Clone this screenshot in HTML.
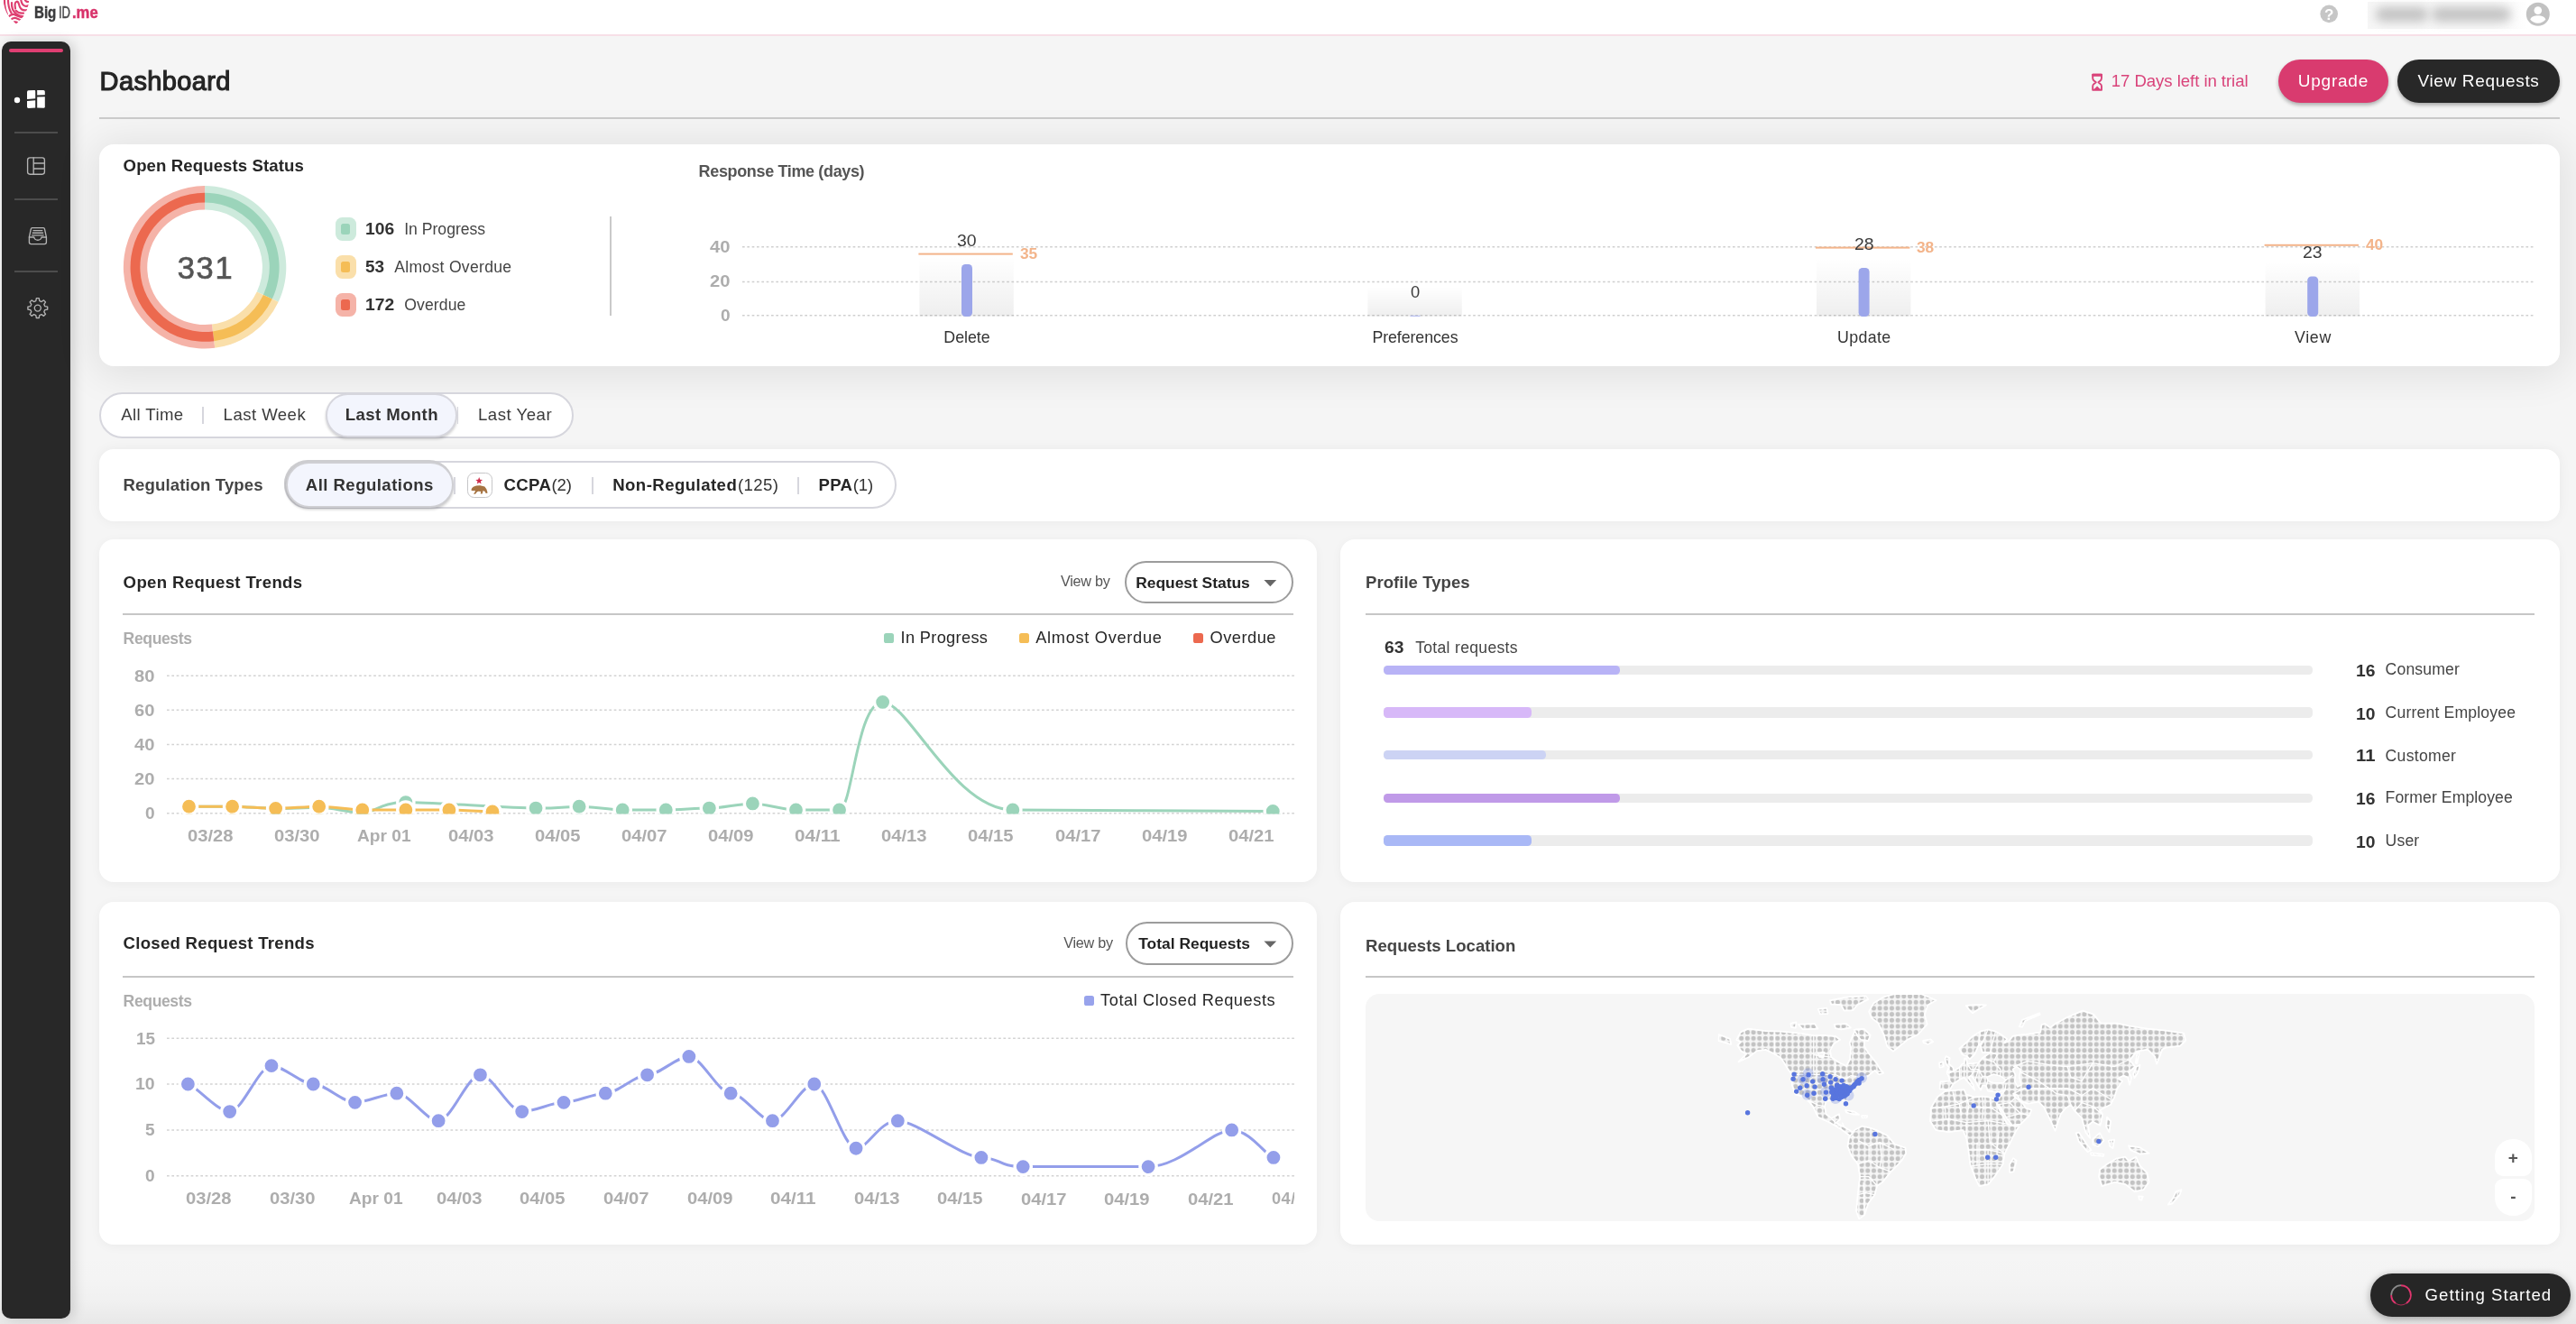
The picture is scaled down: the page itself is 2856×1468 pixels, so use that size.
<!DOCTYPE html>
<html lang="en"><head><meta charset="utf-8"><title>BigID.me - Dashboard</title>
<style>
html,body{margin:0;padding:0;}
body{width:2856px;height:1468px;overflow:hidden;background:#f5f5f5;font-family:"Liberation Sans",sans-serif;}
#root{position:relative;width:2856px;height:1468px;overflow:hidden;background:#f5f5f5;will-change:transform;}
.b{position:absolute;box-sizing:border-box;display:block;}
.t{position:absolute;white-space:nowrap;line-height:1;font-family:"Liberation Sans",sans-serif;}
.card{position:absolute;background:#fff;border-radius:16px;box-sizing:border-box;}
</style></head><body><div id="root">
<div class="b" style="left:0.00px;top:1380.00px;width:2856.00px;height:88.00px;background:linear-gradient(to bottom, rgba(0,0,0,0) 0%, rgba(0,0,0,0.005) 40%, rgba(0,0,0,0.02) 72%, rgba(0,0,0,0.055) 100%);"></div>
<div class="b" style="left:0.00px;top:0.00px;width:2856.00px;height:40.00px;background:#fff;border-bottom:2px solid #f7dfe7;"></div>
<svg class="b" style="left:0.00px;top:0.00px;" width="40.00" height="38.00" viewBox="0.00 0.00 40.00 38.00">
<defs><clipPath id="heart"><path d="M3.6 -3 C3.4 9 8 18.5 17.8 26.4 C27.6 18.5 32.4 9 32.2 -3 Z"/></clipPath></defs>
<g clip-path="url(#heart)" fill="none" stroke="#de3f70" stroke-width="2.15" stroke-linecap="round"><path d="M5 -2 C4.8 6 5.6 11 8 16"/><path d="M9 -2 C8.8 5 9.8 10 12.6 14.4"/><path d="M13 3 C12.6 8.5 14.4 12.5 18 15.4 C21 17.8 24.5 18.6 28 18.2"/><path d="M17 9.4 C16.2 5.4 16.4 2 18.6 1.7 C20.9 1.5 20.8 5 22 7.8 C23.3 10.6 26.2 12 30 11"/><path d="M13.6 -1 C15 -3.4 22 -3.6 23.2 -0.5 C23.6 2.4 24.6 5.2 27 6.4 C28.6 7.2 30.4 7 32 6"/><path d="M27.2 -2 C27.5 0.6 28.8 2.3 32 2"/><path d="M26 14.6 C22.4 15 19.6 14 17.6 11.6"/><path d="M8.6 19.4 C11.4 16.4 13.6 15.6 15.6 16 C19 17.6 22.4 19.2 25.8 19.4"/><path d="M11.6 22.4 C13.6 20.2 15.4 19.6 17.2 20 C19.4 20.8 21.4 21.8 23.4 22.2"/></g>
<path d="M14.8 23.6 C16.4 23 18.6 23.2 20.2 24.2 C19.6 25.2 18.8 25.8 17.8 26.2 C16.6 25.6 15.6 24.8 14.8 23.6 Z" fill="#de3f70"/>
</svg>
<span class="t" style="left:37.55px;top:4px;font-size:19.2px;color:#3c3c3e;font-weight:700;-webkit-text-stroke:0.50px #3c3c3e;transform-origin:0.00px 0;transform:scaleX(0.7861);">Big</span>
<span class="t" style="left:64.88px;top:4px;font-size:19.2px;color:#4b4b4d;-webkit-text-stroke:0.55px #4b4b4d;transform-origin:0.00px 0;transform:scaleX(0.6797);">ID</span>
<span class="t" style="left:79.65px;top:4px;font-size:19.2px;color:#d8336b;font-weight:700;-webkit-text-stroke:0.50px #d8336b;transform-origin:0.00px 0;transform:scaleX(0.8665);">.me</span>
<svg class="b" style="left:2570.00px;top:3.00px;" width="26.00" height="26.00" viewBox="2570.00 3.00 26.00 26.00">
<circle cx="2582.2" cy="15.4" r="9.8" fill="#c6c6c6"/>
</svg>
<span class="t" style="left:2577.01px;top:8px;font-size:17.0px;color:#fff;font-weight:700;">?</span>
<div class="b" style="left:2625.00px;top:2.00px;width:178.00px;height:30.00px;background:linear-gradient(to right,#f6f6f6 0%,#f6f6f6 78%,#fff 100%);"></div>
<div class="b" style="left:2634.00px;top:8.00px;width:58.00px;height:16.00px;background:#a2a2a2;border-radius:8px;filter:blur(5.5px);opacity:.6;"></div>
<div class="b" style="left:2696.00px;top:8.00px;width:88.00px;height:16.00px;background:#a2a2a2;border-radius:8px;filter:blur(5.5px);opacity:.6;"></div>
<svg class="b" style="left:2798.00px;top:0.00px;" width="32.00" height="32.00" viewBox="2798.00 0.00 32.00 32.00">
<circle cx="2813.8" cy="15.8" r="13" fill="#c2c2c2"/><circle cx="2813.8" cy="11.6" r="4.3" fill="#fff"/><path d="M2805.2 21.6 C2806.4 18.2 2810 17.2 2813.8 17.2 C2817.6 17.2 2821.2 18.2 2822.4 21.6 C2820.4 24.2 2817.4 25.8 2813.8 25.8 C2810.2 25.8 2807.2 24.2 2805.2 21.6 Z" fill="#fff"/>
</svg>
<div class="b" style="left:2.00px;top:46.00px;width:76.00px;height:1416.00px;background:#282828;border-radius:10px;box-shadow:4px 0 14px rgba(0,0,0,0.16);"></div>
<div class="b" style="left:10.00px;top:54.00px;width:60.00px;height:4.20px;background:#df3f72;border-radius:2.1px;"></div>
<svg class="b" style="left:10.00px;top:95.00px;" width="60.00" height="30.00" viewBox="10.00 95.00 60.00 30.00">
<circle cx="19" cy="111" r="3.2" fill="#fff"/>
<g fill="#fff"><path d="M31.5 100.2 L38.2 99.9 Q39.2 99.9 39.2 100.9 L39.2 109.3 L30 109.9 L30 101.7 Q30 100.3 31.5 100.2 Z"/><path d="M41.2 99.9 L48.2 100.1 Q49.8 100.2 49.8 101.8 L49.8 105.2 L41.2 105.6 Z"/><path d="M30 111.9 L39.2 111.3 L39.2 119.6 L31.6 119.9 Q30 119.9 30 118.3 Z"/><path d="M41.2 107.6 L49.8 107.2 L49.8 118.2 Q49.8 119.8 48.2 119.8 L41.2 119.6 Z"/></g>
</svg>
<div class="b" style="left:16.00px;top:146.00px;width:48.00px;height:2.00px;background:#4c4c4c;"></div>
<div class="b" style="left:16.00px;top:220.00px;width:48.00px;height:2.00px;background:#4c4c4c;"></div>
<div class="b" style="left:16.00px;top:300.00px;width:48.00px;height:2.00px;background:#4c4c4c;"></div>
<svg class="b" style="left:20.00px;top:165.00px;" width="44.00" height="190.00" viewBox="20.00 165.00 44.00 190.00">
<g fill="none" stroke="#b4b4b4" stroke-width="1.35" stroke-linejoin="round" stroke-linecap="round">
<rect x="30.6" y="174.8" width="18.8" height="18.4" rx="2.6"/><path d="M37.2 174.8 V193.2 M37.2 181 H49.4 M37.2 187 H49.4"/>
<path d="M35.6 252.6 H48.2 Q49.2 252.6 49.4 253.6 L51.4 262.8 V268.6 Q51.4 270.6 49.4 270.6 H34.4 Q32.4 270.6 32.4 268.6 V262.8 L34.4 253.6 Q34.6 252.6 35.6 252.6 Z"/><path d="M32.4 263 H37.8 Q38.4 266.2 41.9 266.2 Q45.4 266.2 46 263 H51.4"/><path d="M37 255.6 H46.8 M36.2 258.2 H47.6 M35.6 260.8 H48.2"/>
<path d="M40.37 330.69 L43.23 330.69 L43.83 333.65 L45.98 334.55 L48.50 332.88 L50.52 334.90 L48.85 337.42 L49.75 339.57 L52.71 340.17 L52.71 343.03 L49.75 343.63 L48.85 345.78 L50.52 348.30 L48.50 350.32 L45.98 348.65 L43.83 349.55 L43.23 352.51 L40.37 352.51 L39.77 349.55 L37.62 348.65 L35.10 350.32 L33.08 348.30 L34.75 345.78 L33.85 343.63 L30.89 343.03 L30.89 340.17 L33.85 339.57 L34.75 337.42 L33.08 334.90 L35.10 332.88 L37.62 334.55 L39.77 333.65 Z"/>
<circle cx="41.8" cy="341.6" r="3.5"/>
</g>
</svg>
<span class="t" style="left:110.58px;top:76px;font-size:29.0px;color:#252525;letter-spacing:0.380px;-webkit-text-stroke:1.15px #252525;">Dashboard</span>
<div class="b" style="left:110.00px;top:130.00px;width:2728.00px;height:2.00px;background:#cbcbcb;"></div>
<svg class="b" style="left:2316.00px;top:80.00px;" width="18.00" height="24.00" viewBox="2316.00 80.00 18.00 24.00">
<g fill="none" stroke="#d9437a" stroke-width="1.9" stroke-linejoin="round"><path d="M2320.2 82.6 H2330 V86.6 Q2330 88.4 2328.6 89.4 L2326.4 91.2 L2328.6 93 Q2330 94 2330 95.8 V99.8 H2320.2 V95.8 Q2320.2 94 2321.6 93 L2323.8 91.2 L2321.6 89.4 Q2320.2 88.4 2320.2 86.6 Z"/></g><path d="M2321.6 99 L2325.1 95.6 L2328.6 99 Z" fill="#d9437a"/><rect x="2319.4" y="81.8" width="11.4" height="3" rx="1" fill="#d9437a"/>
</svg>
<span class="t" style="left:2340.80px;top:81px;font-size:18.6px;color:#d9437a;letter-spacing:-0.059px;">17 Days left in trial</span>
<div class="b" style="left:2526.00px;top:66.00px;width:122.00px;height:47.60px;background:#d93b6f;border-radius:24px;box-shadow:0 2.5px 4.5px rgba(0,0,0,0.3);"></div>
<span class="t" style="left:2547.80px;top:80px;font-size:19.0px;color:#fff;letter-spacing:0.756px;">Upgrade</span>
<div class="b" style="left:2658.00px;top:66.00px;width:180.00px;height:47.60px;background:#282828;border-radius:24px;box-shadow:0 2.5px 4.5px rgba(0,0,0,0.32);"></div>
<span class="t" style="left:2680.40px;top:80px;font-size:19.0px;color:#fff;letter-spacing:0.671px;">View Requests</span>
<div class="b" style="left:2628.00px;top:1412.00px;width:222.00px;height:48.00px;background:#262626;border-radius:24px;box-shadow:0 2px 8px rgba(0,0,0,0.35);"></div>
<svg class="b" style="left:2645.00px;top:1420.00px;" width="34.00" height="32.00" viewBox="2645.00 1420.00 34.00 32.00">
<path d="M2651.2 1436 A10.8 10.8 0 0 1 2662 1425.2" fill="none" stroke="#8a8a8a" stroke-width="1.7"/><path d="M2662 1425.2 A10.8 10.8 0 0 1 2668 1445" fill="none" stroke="#e0356e" stroke-width="2"/><path d="M2668 1445 A10.8 10.8 0 0 1 2656 1445" fill="none" stroke="#b02c58" stroke-width="1"/><path d="M2656 1445 A10.8 10.8 0 0 1 2651.2 1436" fill="none" stroke="#e0356e" stroke-width="1.9"/>
</svg>
<span class="t" style="left:2688.60px;top:1427px;font-size:18.6px;color:#fff;letter-spacing:1.037px;">Getting Started</span>
<div class="card" style="left:110px;top:160px;width:2728px;height:245.6px;box-shadow:0 4px 44px 6px rgba(0,0,0,0.085);"></div>
<span class="t" style="left:136.60px;top:175px;font-size:18.6px;color:#262626;font-weight:700;letter-spacing:0.102px;">Open Requests Status</span>
<svg class="b" style="left:130.00px;top:200.00px;" width="196.00" height="194.00" viewBox="130.00 200.00 196.00 194.00">
<path d="M227.10 206.10 A90.20 90.20 0 0 1 308.66 334.83 L284.79 323.55 A63.80 63.80 0 0 0 227.10 232.50 Z" fill="#cdeadc"/>
<path d="M227.10 213.80 A82.50 82.50 0 0 1 301.69 331.54 L291.93 326.93 A71.70 71.70 0 0 0 227.10 224.60 Z" fill="#9bd4ba"/>
<path d="M308.66 334.83 A90.20 90.20 0 0 1 238.20 385.81 L234.95 359.61 A63.80 63.80 0 0 0 284.79 323.55 Z" fill="#fadfaa"/>
<path d="M301.69 331.54 A82.50 82.50 0 0 1 237.25 378.17 L235.92 367.45 A71.70 71.70 0 0 0 291.93 326.93 Z" fill="#f5bd56"/>
<path d="M238.20 385.81 A90.20 90.20 0 1 1 227.10 206.10 L227.10 232.50 A63.80 63.80 0 1 0 234.95 359.61 Z" fill="#f5b3a8"/>
<path d="M237.25 378.17 A82.50 82.50 0 1 1 227.10 213.80 L227.10 224.60 A71.70 71.70 0 1 0 235.92 367.45 Z" fill="#ec694f"/>
</svg>
<span class="t" style="left:196.80px;top:280px;font-size:34.4px;color:#555;letter-spacing:1.676px;-webkit-text-stroke:0.70px #555;">331</span>
<div class="b" style="left:371.60px;top:241.40px;width:23.00px;height:25.20px;background:#cdeadc;border-radius:7.5px;"></div>
<div class="b" style="left:378.20px;top:248.00px;width:9.80px;height:12.00px;background:#9bd4ba;border-radius:2.5px;"></div>
<span class="t" style="left:405.20px;top:246px;font-size:17.6px;color:#333;font-weight:700;transform-origin:0.00px 0;transform:scaleX(1.0955);">106</span>
<span class="t" style="left:448.20px;top:246px;font-size:17.6px;color:#444;">In Progress</span>
<div class="b" style="left:371.60px;top:283.40px;width:23.00px;height:25.20px;background:#fadfaa;border-radius:7.5px;"></div>
<div class="b" style="left:378.20px;top:290.00px;width:9.80px;height:12.00px;background:#f5bd56;border-radius:2.5px;"></div>
<span class="t" style="left:405.20px;top:288px;font-size:17.6px;color:#333;font-weight:700;transform-origin:0.00px 0;transform:scaleX(1.0749);">53</span>
<span class="t" style="left:437.20px;top:288px;font-size:17.6px;color:#444;letter-spacing:0.293px;">Almost Overdue</span>
<div class="b" style="left:371.60px;top:325.40px;width:23.00px;height:25.20px;background:#f5b3a8;border-radius:7.5px;"></div>
<div class="b" style="left:378.20px;top:332.00px;width:9.80px;height:12.00px;background:#ec694f;border-radius:2.5px;"></div>
<span class="t" style="left:405.20px;top:330px;font-size:17.6px;color:#333;font-weight:700;transform-origin:0.00px 0;transform:scaleX(1.0955);">172</span>
<span class="t" style="left:448.20px;top:330px;font-size:17.6px;color:#444;letter-spacing:0.117px;">Overdue</span>
<div class="b" style="left:676.00px;top:240.00px;width:2.00px;height:110.00px;background:#c9c9c9;"></div>
<span class="t" style="left:774.60px;top:181px;font-size:18.0px;color:#555;font-weight:700;letter-spacing:-0.353px;">Response Time (days)</span>
<svg class="b" style="left:760.00px;top:230.00px;" width="2070.00" height="140.00" viewBox="760.00 230.00 2070.00 140.00">
<line x1="823" y1="273.80" x2="2810.6" y2="273.80" stroke="#d0d0d0" stroke-width="1.5" stroke-dasharray="2.7 2.63"/>
<line x1="823" y1="312.40" x2="2810.6" y2="312.40" stroke="#d0d0d0" stroke-width="1.5" stroke-dasharray="2.7 2.63"/>
<line x1="823" y1="349.80" x2="2810.6" y2="349.80" stroke="#d0d0d0" stroke-width="1.5" stroke-dasharray="2.7 2.63"/>
<defs><linearGradient id="colbg" x1="0" y1="0" x2="0" y2="1"><stop offset="0" stop-color="#000" stop-opacity="0"/><stop offset="1" stop-color="#000" stop-opacity="0.065"/></linearGradient></defs>
<rect x="1019.40" y="284.00" width="104.4" height="66.60" fill="url(#colbg)"/>
<rect x="1066.00" y="293.00" width="12" height="58.00" rx="4.4" fill="#9ca6ea"/>
<rect x="1018.40" y="280.60" width="104.4" height="2" fill="#f3b48a"/>
<rect x="1516.40" y="318.00" width="104.4" height="32.60" fill="url(#colbg)"/>
<rect x="1563.50" y="349.8" width="11" height="1.2" fill="#b9c0f2"/>
<rect x="2014.00" y="286.00" width="104.4" height="64.60" fill="url(#colbg)"/>
<rect x="2060.60" y="297.00" width="12" height="54.00" rx="4.4" fill="#9ca6ea"/>
<rect x="2013.00" y="273.60" width="104.4" height="2" fill="#f3b48a"/>
<rect x="2511.60" y="290.00" width="104.4" height="60.60" fill="url(#colbg)"/>
<rect x="2558.20" y="306.40" width="12" height="44.60" rx="4.4" fill="#9ca6ea"/>
<rect x="2510.60" y="270.80" width="104.4" height="2" fill="#f3b48a"/>
</svg>
<span class="t" style="left:787.00px;top:265px;font-size:18.0px;color:#adadad;font-weight:700;transform-origin:0.00px 0;transform:scaleX(1.1211);">40</span>
<span class="t" style="left:787.00px;top:303px;font-size:18.0px;color:#adadad;font-weight:700;transform-origin:0.00px 0;transform:scaleX(1.1211);">20</span>
<span class="t" style="left:798.80px;top:341px;font-size:18.0px;color:#adadad;font-weight:700;transform-origin:0.00px 0;transform:scaleX(1.0611);">0</span>
<span class="t" style="left:1061.20px;top:259px;font-size:17.8px;color:#3c3c3c;transform-origin:0.00px 0;transform:scaleX(1.0932);">30</span>
<span class="t" style="left:1130.60px;top:274px;font-size:15.8px;color:#f3b48a;font-weight:700;transform-origin:0.00px 0;transform:scaleX(1.0948);">35</span>
<span class="t" style="left:1046.30px;top:366px;font-size:17.8px;color:#333;letter-spacing:-0.008px;">Delete</span>
<span class="t" style="left:1563.90px;top:316px;font-size:17.8px;color:#3c3c3c;transform-origin:0.00px 0;transform:scaleX(1.0325);">0</span>
<span class="t" style="left:1521.40px;top:366px;font-size:17.8px;color:#333;letter-spacing:-0.074px;">Preferences</span>
<span class="t" style="left:2055.80px;top:263px;font-size:17.8px;color:#3c3c3c;transform-origin:0.00px 0;transform:scaleX(1.0932);">28</span>
<span class="t" style="left:2125.20px;top:267px;font-size:15.8px;color:#f3b48a;font-weight:700;transform-origin:0.00px 0;transform:scaleX(1.0948);">38</span>
<span class="t" style="left:2036.90px;top:366px;font-size:17.8px;color:#333;letter-spacing:0.399px;">Update</span>
<span class="t" style="left:2553.40px;top:272px;font-size:17.8px;color:#3c3c3c;transform-origin:0.00px 0;transform:scaleX(1.0932);">23</span>
<span class="t" style="left:2622.80px;top:264px;font-size:15.8px;color:#f3b48a;font-weight:700;transform-origin:0.00px 0;transform:scaleX(1.0948);">40</span>
<span class="t" style="left:2544.10px;top:366px;font-size:17.8px;color:#333;letter-spacing:0.643px;">View</span>
<div class="b" style="left:110.00px;top:434.50px;width:525.60px;height:51.00px;background:#fff;border:2px solid #d6d6dd;border-radius:26px;"></div>
<span class="t" style="left:134.20px;top:451px;font-size:18.6px;color:#3a3a3a;letter-spacing:0.411px;">All Time</span>
<div class="b" style="left:224.00px;top:450.50px;width:2.00px;height:19.00px;background:#d6d6dd;"></div>
<span class="t" style="left:247.60px;top:451px;font-size:18.6px;color:#3a3a3a;letter-spacing:0.449px;">Last Week</span>
<div class="b" style="left:360.50px;top:435.50px;width:146.00px;height:49.00px;background:#f3f5fd;border:2px solid #d6d6dd;border-radius:25px;box-shadow:0 2px 3px rgba(0,0,0,0.18);"></div>
<span class="t" style="left:382.80px;top:451px;font-size:18.6px;color:#333;font-weight:700;letter-spacing:0.397px;">Last Month</span>
<div class="b" style="left:506.60px;top:450.50px;width:1.60px;height:19.00px;background:#d6d6dd;"></div>
<span class="t" style="left:530.00px;top:451px;font-size:18.6px;color:#3a3a3a;letter-spacing:0.505px;">Last Year</span>
<div class="card" style="left:110px;top:498px;width:2728px;height:80px;box-shadow:0 0 14px rgba(0,0,0,0.05);"></div>
<span class="t" style="left:136.60px;top:529px;font-size:18.6px;color:#444;font-weight:700;letter-spacing:0.091px;">Regulation Types</span>
<div class="b" style="left:314.50px;top:510.50px;width:679.50px;height:53.00px;background:#fff;border:2px solid #d6d6dd;border-radius:27px;"></div>
<div class="b" style="left:316.60px;top:512.40px;width:186.40px;height:50.40px;background:#f3f5fd;border:2px solid #cfcfd3;border-radius:26px;box-shadow:0 2px 3px rgba(0,0,0,0.2), -1.5px -1.5px 0 0.5px #cdcdd0;"></div>
<span class="t" style="left:338.80px;top:529px;font-size:18.6px;color:#333;font-weight:700;letter-spacing:0.442px;">All Regulations</span>
<div class="b" style="left:503.40px;top:528.50px;width:1.60px;height:19.00px;background:#d6d6dd;"></div>
<div class="b" style="left:518.00px;top:524.00px;width:27.80px;height:27.80px;background:#fff;border:1.8px solid #c6c6c8;border-radius:7.5px;"></div>
<svg class="b" style="left:518.00px;top:524.00px;" width="28.00" height="28.00" viewBox="518.00 524.00 28.00 28.00">
<polygon points="531.19,529.12 532.23,531.77 535.07,531.94 532.87,533.74 533.59,536.50 531.19,534.97 528.79,536.50 529.51,533.74 527.31,531.94 530.15,531.77" fill="#cf2e4c"/>
<polygon points="522.35,543.57 523.20,541.19 524.73,539.76 528.13,538.54 532.21,538.13 537.31,539.49 539.35,542.21 540.37,545.61 540.44,546.70 538.67,546.97 537.65,544.93 535.61,543.98 534.93,546.63 534.25,547.72 532.72,547.31 533.23,544.93 530.17,544.66 528.81,545.61 527.11,547.72 525.00,547.86 526.09,546.29 527.11,544.32 525.41,543.98 524.05,544.32" fill="#a67443"/>
</svg>
<span class="t" style="left:558.40px;top:529px;font-size:18.6px;color:#262626;font-weight:700;letter-spacing:0.421px;">CCPA</span>
<span class="t" style="left:611.60px;top:529px;font-size:18.6px;color:#333;letter-spacing:-0.246px;">(2)</span>
<div class="b" style="left:656.00px;top:528.50px;width:2.00px;height:19.00px;background:#d6d6dd;"></div>
<span class="t" style="left:679.20px;top:529px;font-size:18.6px;color:#262626;font-weight:700;letter-spacing:0.446px;">Non-Regulated</span>
<span class="t" style="left:818.00px;top:529px;font-size:18.6px;color:#333;letter-spacing:0.392px;">(125)</span>
<div class="b" style="left:884.00px;top:528.50px;width:2.00px;height:19.00px;background:#d6d6dd;"></div>
<span class="t" style="left:907.60px;top:529px;font-size:18.6px;color:#262626;font-weight:700;letter-spacing:0.286px;">PPA</span>
<span class="t" style="left:945.80px;top:529px;font-size:18.6px;color:#333;letter-spacing:-0.146px;">(1)</span>
<div class="card" style="left:110px;top:598.0px;width:1350px;height:380px;box-shadow:0 2px 12px rgba(0,0,0,0.045);"></div>
<span class="t" style="left:136.60px;top:637px;font-size:18.6px;color:#262626;font-weight:700;letter-spacing:0.354px;">Open Request Trends</span>
<span class="t" style="left:1176.00px;top:636px;font-size:16.2px;color:#555;letter-spacing:-0.243px;">View by</span>
<div class="b" style="left:1246.60px;top:622.00px;width:187.00px;height:47.40px;background:#fff;border:2px solid #9c9c9c;border-radius:24px;"></div>
<span class="t" style="left:1259.20px;top:638px;font-size:17.4px;color:#222;font-weight:700;letter-spacing:-0.006px;">Request Status</span>
<svg class="b" style="left:1398.00px;top:636.00px;" width="22.00" height="20.00" viewBox="1398.00 636.00 22.00 20.00">
<path d="M1401.4 643.0 H1415.2 L1408.3 650.2 Z" fill="#666"/>
</svg>
<div class="b" style="left:136.00px;top:680.20px;width:1298.00px;height:2.00px;background:#c6c6c6;"></div>
<span class="t" style="left:136.60px;top:700px;font-size:17.6px;color:#adadad;font-weight:700;letter-spacing:-0.400px;">Requests</span>
<div class="b" style="left:980.00px;top:702.00px;width:10.60px;height:10.60px;background:#9bd4ba;border-radius:2.6px;"></div>
<span class="t" style="left:998.60px;top:698px;font-size:18.2px;color:#262626;letter-spacing:0.331px;">In Progress</span>
<div class="b" style="left:1130.00px;top:702.00px;width:10.60px;height:10.60px;background:#f5bd56;border-radius:2.6px;"></div>
<span class="t" style="left:1148.20px;top:698px;font-size:18.2px;color:#262626;letter-spacing:0.716px;">Almost Overdue</span>
<div class="b" style="left:1323.20px;top:702.00px;width:10.60px;height:10.60px;background:#ec694f;border-radius:2.6px;"></div>
<span class="t" style="left:1341.60px;top:698px;font-size:18.2px;color:#262626;letter-spacing:0.501px;">Overdue</span>
<span class="t" style="left:149.20px;top:741px;font-size:18.2px;color:#adadad;font-weight:700;transform-origin:0.00px 0;transform:scaleX(1.1088);">80</span>
<span class="t" style="left:149.20px;top:779px;font-size:18.2px;color:#adadad;font-weight:700;transform-origin:0.00px 0;transform:scaleX(1.1088);">60</span>
<span class="t" style="left:149.20px;top:817px;font-size:18.2px;color:#adadad;font-weight:700;transform-origin:0.00px 0;transform:scaleX(1.1088);">40</span>
<span class="t" style="left:149.20px;top:855px;font-size:18.2px;color:#adadad;font-weight:700;transform-origin:0.00px 0;transform:scaleX(1.1088);">20</span>
<span class="t" style="left:161.00px;top:893px;font-size:18.2px;color:#adadad;font-weight:700;transform-origin:0.00px 0;transform:scaleX(1.0494);">0</span>
<span class="t" style="left:208.10px;top:918px;font-size:18.2px;color:#adadad;font-weight:700;transform-origin:0.00px 0;transform:scaleX(1.1099);">03/28</span>
<span class="t" style="left:304.24px;top:918px;font-size:18.2px;color:#adadad;font-weight:700;transform-origin:0.00px 0;transform:scaleX(1.1099);">03/30</span>
<span class="t" style="left:395.88px;top:918px;font-size:18.2px;color:#adadad;font-weight:700;transform-origin:0.00px 0;transform:scaleX(1.0530);">Apr 01</span>
<span class="t" style="left:496.52px;top:918px;font-size:18.2px;color:#adadad;font-weight:700;transform-origin:0.00px 0;transform:scaleX(1.1099);">04/03</span>
<span class="t" style="left:592.66px;top:918px;font-size:18.2px;color:#adadad;font-weight:700;transform-origin:0.00px 0;transform:scaleX(1.1099);">04/05</span>
<span class="t" style="left:688.80px;top:918px;font-size:18.2px;color:#adadad;font-weight:700;transform-origin:0.00px 0;transform:scaleX(1.1099);">04/07</span>
<span class="t" style="left:784.94px;top:918px;font-size:18.2px;color:#adadad;font-weight:700;transform-origin:0.00px 0;transform:scaleX(1.1099);">04/09</span>
<span class="t" style="left:881.08px;top:918px;font-size:18.2px;color:#adadad;font-weight:700;transform-origin:0.00px 0;transform:scaleX(1.1371);">04/11</span>
<span class="t" style="left:977.22px;top:918px;font-size:18.2px;color:#adadad;font-weight:700;transform-origin:0.00px 0;transform:scaleX(1.1099);">04/13</span>
<span class="t" style="left:1073.36px;top:918px;font-size:18.2px;color:#adadad;font-weight:700;transform-origin:0.00px 0;transform:scaleX(1.1099);">04/15</span>
<span class="t" style="left:1169.50px;top:918px;font-size:18.2px;color:#adadad;font-weight:700;transform-origin:0.00px 0;transform:scaleX(1.1099);">04/17</span>
<span class="t" style="left:1265.64px;top:918px;font-size:18.2px;color:#adadad;font-weight:700;transform-origin:0.00px 0;transform:scaleX(1.1099);">04/19</span>
<span class="t" style="left:1361.78px;top:918px;font-size:18.2px;color:#adadad;font-weight:700;transform-origin:0.00px 0;transform:scaleX(1.1099);">04/21</span>
<svg class="b" style="left:180.00px;top:728.00px;" width="1256.00" height="190.00" viewBox="180.00 728.00 1256.00 190.00">
<line x1="185" y1="749.20" x2="1435" y2="749.20" stroke="#d3d3d3" stroke-width="1.5" stroke-dasharray="2.7 2.63"/>
<line x1="185" y1="787.20" x2="1435" y2="787.20" stroke="#d3d3d3" stroke-width="1.5" stroke-dasharray="2.7 2.63"/>
<line x1="185" y1="825.40" x2="1435" y2="825.40" stroke="#d3d3d3" stroke-width="1.5" stroke-dasharray="2.7 2.63"/>
<line x1="185" y1="863.40" x2="1435" y2="863.40" stroke="#d3d3d3" stroke-width="1.5" stroke-dasharray="2.7 2.63"/>
<line x1="185" y1="901.80" x2="1435" y2="901.80" stroke="#d3d3d3" stroke-width="1.5" stroke-dasharray="2.7 2.63"/>
<clipPath id="clipo"><rect x="180" y="728.0" width="1256" height="174.6"/></clipPath>
<g clip-path="url(#clipo)">
<path d="M209.50 894.17 C216.71 894.17 243.15 894.17 257.57 894.17 C271.99 894.17 291.22 896.46 305.64 896.46 C320.06 896.46 339.29 895.32 353.71 895.32 C368.13 895.32 387.36 901.04 401.78 901.04 C416.20 901.04 421.01 889.60 449.85 889.60 C478.69 889.60 565.22 896.08 594.06 896.08 C622.90 896.08 627.71 894.17 642.13 894.17 C656.55 894.17 675.78 897.99 690.20 897.99 C704.62 897.99 723.85 897.99 738.27 897.99 C752.69 897.99 771.92 896.08 786.34 896.08 C800.76 896.08 819.99 890.93 834.41 890.93 C848.83 890.93 868.06 897.99 882.48 897.99 C896.90 897.99 916.13 897.99 930.55 897.99 C944.97 897.99 949.78 778.46 978.62 778.46 C1007.46 778.46 1057.94 897.99 1122.83 897.99 C1187.72 897.99 1367.99 899.51 1411.25 899.51" fill="none" stroke="#9bd4ba" stroke-width="3" stroke-linecap="round" stroke-linejoin="round"/>
<circle cx="209.50" cy="894.17" r="9.1" fill="#9bd4ba" stroke="#fff" stroke-width="3.4"/>
<circle cx="257.57" cy="894.17" r="9.1" fill="#9bd4ba" stroke="#fff" stroke-width="3.4"/>
<circle cx="305.64" cy="896.46" r="9.1" fill="#9bd4ba" stroke="#fff" stroke-width="3.4"/>
<circle cx="353.71" cy="895.32" r="9.1" fill="#9bd4ba" stroke="#fff" stroke-width="3.4"/>
<circle cx="401.78" cy="901.04" r="9.1" fill="#9bd4ba" stroke="#fff" stroke-width="3.4"/>
<circle cx="449.85" cy="889.60" r="9.1" fill="#9bd4ba" stroke="#fff" stroke-width="3.4"/>
<circle cx="594.06" cy="896.08" r="9.1" fill="#9bd4ba" stroke="#fff" stroke-width="3.4"/>
<circle cx="642.13" cy="894.17" r="9.1" fill="#9bd4ba" stroke="#fff" stroke-width="3.4"/>
<circle cx="690.20" cy="897.99" r="9.1" fill="#9bd4ba" stroke="#fff" stroke-width="3.4"/>
<circle cx="738.27" cy="897.99" r="9.1" fill="#9bd4ba" stroke="#fff" stroke-width="3.4"/>
<circle cx="786.34" cy="896.08" r="9.1" fill="#9bd4ba" stroke="#fff" stroke-width="3.4"/>
<circle cx="834.41" cy="890.93" r="9.1" fill="#9bd4ba" stroke="#fff" stroke-width="3.4"/>
<circle cx="882.48" cy="897.99" r="9.1" fill="#9bd4ba" stroke="#fff" stroke-width="3.4"/>
<circle cx="930.55" cy="897.99" r="9.1" fill="#9bd4ba" stroke="#fff" stroke-width="3.4"/>
<circle cx="978.62" cy="778.46" r="9.1" fill="#9bd4ba" stroke="#fff" stroke-width="3.4"/>
<circle cx="1122.83" cy="897.99" r="9.1" fill="#9bd4ba" stroke="#fff" stroke-width="3.4"/>
<circle cx="1411.25" cy="899.51" r="9.1" fill="#9bd4ba" stroke="#fff" stroke-width="3.4"/>
<path d="M209.50 894.17 C216.71 894.17 243.15 894.17 257.57 894.17 C271.99 894.17 291.22 896.46 305.64 896.46 C320.06 896.46 339.29 894.17 353.71 894.17 C368.13 894.17 387.36 897.99 401.78 897.99 C416.20 897.99 435.43 897.99 449.85 897.99 C464.27 897.99 483.50 897.99 497.92 897.99 C512.34 897.99 538.78 899.89 545.99 899.89" fill="none" stroke="#f5bd56" stroke-width="3" stroke-linecap="round" stroke-linejoin="round"/>
<circle cx="209.50" cy="894.17" r="9.1" fill="#f5bd56" stroke="#fff" stroke-width="3.4"/>
<circle cx="257.57" cy="894.17" r="9.1" fill="#f5bd56" stroke="#fff" stroke-width="3.4"/>
<circle cx="305.64" cy="896.46" r="9.1" fill="#f5bd56" stroke="#fff" stroke-width="3.4"/>
<circle cx="353.71" cy="894.17" r="9.1" fill="#f5bd56" stroke="#fff" stroke-width="3.4"/>
<circle cx="401.78" cy="897.99" r="9.1" fill="#f5bd56" stroke="#fff" stroke-width="3.4"/>
<circle cx="449.85" cy="897.99" r="9.1" fill="#f5bd56" stroke="#fff" stroke-width="3.4"/>
<circle cx="497.92" cy="897.99" r="9.1" fill="#f5bd56" stroke="#fff" stroke-width="3.4"/>
<circle cx="545.99" cy="899.89" r="9.1" fill="#f5bd56" stroke="#fff" stroke-width="3.4"/>
</g>
</svg>
<div class="card" style="left:110px;top:1000.0px;width:1350px;height:380px;box-shadow:0 2px 12px rgba(0,0,0,0.045);"></div>
<span class="t" style="left:136.60px;top:1037px;font-size:18.6px;color:#262626;font-weight:700;letter-spacing:0.263px;">Closed Request Trends</span>
<span class="t" style="left:1179.20px;top:1037px;font-size:16.2px;color:#555;letter-spacing:-0.243px;">View by</span>
<div class="b" style="left:1248.40px;top:1022.40px;width:185.20px;height:47.40px;background:#fff;border:2px solid #9c9c9c;border-radius:24px;"></div>
<span class="t" style="left:1262.20px;top:1038px;font-size:17.4px;color:#222;font-weight:700;letter-spacing:0.027px;">Total Requests</span>
<svg class="b" style="left:1398.00px;top:1038.00px;" width="22.00" height="20.00" viewBox="1398.00 1038.00 22.00 20.00">
<path d="M1401.4 1043.4 H1415.2 L1408.3 1050.6 Z" fill="#666"/>
</svg>
<div class="b" style="left:136.00px;top:1082.20px;width:1298.00px;height:2.00px;background:#c6c6c6;"></div>
<span class="t" style="left:136.60px;top:1102px;font-size:17.6px;color:#adadad;font-weight:700;letter-spacing:-0.400px;">Requests</span>
<div class="b" style="left:1202.00px;top:1104.00px;width:10.60px;height:10.60px;background:#98a3ec;border-radius:2.6px;"></div>
<span class="t" style="left:1220.00px;top:1100px;font-size:18.2px;color:#262626;letter-spacing:0.585px;">Total Closed Requests</span>
<span class="t" style="left:150.60px;top:1143px;font-size:18.2px;color:#adadad;font-weight:700;transform-origin:0.00px 0;transform:scaleX(1.0395);">15</span>
<span class="t" style="left:150.00px;top:1193px;font-size:18.2px;color:#adadad;font-weight:700;transform-origin:0.00px 0;transform:scaleX(1.0692);">10</span>
<span class="t" style="left:161.00px;top:1244px;font-size:18.2px;color:#adadad;font-weight:700;transform-origin:0.00px 0;transform:scaleX(1.0494);">5</span>
<span class="t" style="left:161.00px;top:1295px;font-size:18.2px;color:#adadad;font-weight:700;transform-origin:0.00px 0;transform:scaleX(1.0494);">0</span>
<span class="t" style="left:206.10px;top:1320px;font-size:18.2px;color:#adadad;font-weight:700;transform-origin:0.00px 0;transform:scaleX(1.1099);">03/28</span>
<span class="t" style="left:298.68px;top:1320px;font-size:18.2px;color:#adadad;font-weight:700;transform-origin:0.00px 0;transform:scaleX(1.1099);">03/30</span>
<span class="t" style="left:386.76px;top:1320px;font-size:18.2px;color:#adadad;font-weight:700;transform-origin:0.00px 0;transform:scaleX(1.0530);">Apr 01</span>
<span class="t" style="left:483.84px;top:1320px;font-size:18.2px;color:#adadad;font-weight:700;transform-origin:0.00px 0;transform:scaleX(1.1099);">04/03</span>
<span class="t" style="left:576.42px;top:1320px;font-size:18.2px;color:#adadad;font-weight:700;transform-origin:0.00px 0;transform:scaleX(1.1099);">04/05</span>
<span class="t" style="left:669.00px;top:1320px;font-size:18.2px;color:#adadad;font-weight:700;transform-origin:0.00px 0;transform:scaleX(1.1099);">04/07</span>
<span class="t" style="left:761.58px;top:1320px;font-size:18.2px;color:#adadad;font-weight:700;transform-origin:0.00px 0;transform:scaleX(1.1099);">04/09</span>
<span class="t" style="left:854.16px;top:1320px;font-size:18.2px;color:#adadad;font-weight:700;transform-origin:0.00px 0;transform:scaleX(1.1371);">04/11</span>
<span class="t" style="left:946.74px;top:1320px;font-size:18.2px;color:#adadad;font-weight:700;transform-origin:0.00px 0;transform:scaleX(1.1099);">04/13</span>
<span class="t" style="left:1039.32px;top:1320px;font-size:18.2px;color:#adadad;font-weight:700;transform-origin:0.00px 0;transform:scaleX(1.1099);">04/15</span>
<span class="t" style="left:1131.90px;top:1321px;font-size:18.2px;color:#adadad;font-weight:700;transform-origin:0.00px 0;transform:scaleX(1.1099);">04/17</span>
<span class="t" style="left:1224.48px;top:1321px;font-size:18.2px;color:#adadad;font-weight:700;transform-origin:0.00px 0;transform:scaleX(1.1099);">04/19</span>
<span class="t" style="left:1317.06px;top:1321px;font-size:18.2px;color:#adadad;font-weight:700;transform-origin:0.00px 0;transform:scaleX(1.1099);">04/21</span>
<svg class="b" style="left:180.00px;top:1130.00px;" width="1256.00" height="190.00" viewBox="180.00 1130.00 1256.00 190.00">
<line x1="185" y1="1151.20" x2="1435" y2="1151.20" stroke="#d3d3d3" stroke-width="1.5" stroke-dasharray="2.7 2.63"/>
<line x1="185" y1="1202.00" x2="1435" y2="1202.00" stroke="#d3d3d3" stroke-width="1.5" stroke-dasharray="2.7 2.63"/>
<line x1="185" y1="1252.90" x2="1435" y2="1252.90" stroke="#d3d3d3" stroke-width="1.5" stroke-dasharray="2.7 2.63"/>
<line x1="185" y1="1303.80" x2="1435" y2="1303.80" stroke="#d3d3d3" stroke-width="1.5" stroke-dasharray="2.7 2.63"/>
<clipPath id="clipc"><rect x="180" y="1130.0" width="1256" height="190.0"/></clipPath>
<g clip-path="url(#clipc)">
<path d="M208.40 1202.00 C215.34 1202.00 240.80 1232.54 254.69 1232.54 C268.58 1232.54 287.09 1181.64 300.98 1181.64 C314.87 1181.64 333.38 1202.00 347.27 1202.00 C361.16 1202.00 379.67 1222.36 393.56 1222.36 C407.45 1222.36 425.96 1212.18 439.85 1212.18 C453.74 1212.18 472.25 1242.72 486.14 1242.72 C500.03 1242.72 518.54 1191.82 532.43 1191.82 C546.32 1191.82 564.83 1232.54 578.72 1232.54 C592.61 1232.54 611.12 1222.36 625.01 1222.36 C638.90 1222.36 657.41 1212.18 671.30 1212.18 C685.19 1212.18 703.70 1191.82 717.59 1191.82 C731.48 1191.82 749.99 1171.46 763.88 1171.46 C777.77 1171.46 796.28 1212.18 810.17 1212.18 C824.06 1212.18 842.57 1242.72 856.46 1242.72 C870.35 1242.72 888.86 1202.00 902.75 1202.00 C916.64 1202.00 935.15 1273.26 949.04 1273.26 C962.93 1273.26 974.50 1242.72 995.33 1242.72 C1016.16 1242.72 1067.08 1283.44 1087.91 1283.44 C1108.74 1283.44 1106.43 1293.62 1134.20 1293.62 C1161.97 1293.62 1238.35 1293.62 1273.07 1293.62 C1307.79 1293.62 1344.82 1252.90 1365.65 1252.90 C1386.48 1252.90 1405.00 1283.44 1411.94 1283.44" fill="none" stroke="#939eea" stroke-width="3" stroke-linecap="round" stroke-linejoin="round"/>
<circle cx="208.40" cy="1202.00" r="9.1" fill="#939eea" stroke="#fff" stroke-width="3.4"/>
<circle cx="254.69" cy="1232.54" r="9.1" fill="#939eea" stroke="#fff" stroke-width="3.4"/>
<circle cx="300.98" cy="1181.64" r="9.1" fill="#939eea" stroke="#fff" stroke-width="3.4"/>
<circle cx="347.27" cy="1202.00" r="9.1" fill="#939eea" stroke="#fff" stroke-width="3.4"/>
<circle cx="393.56" cy="1222.36" r="9.1" fill="#939eea" stroke="#fff" stroke-width="3.4"/>
<circle cx="439.85" cy="1212.18" r="9.1" fill="#939eea" stroke="#fff" stroke-width="3.4"/>
<circle cx="486.14" cy="1242.72" r="9.1" fill="#939eea" stroke="#fff" stroke-width="3.4"/>
<circle cx="532.43" cy="1191.82" r="9.1" fill="#939eea" stroke="#fff" stroke-width="3.4"/>
<circle cx="578.72" cy="1232.54" r="9.1" fill="#939eea" stroke="#fff" stroke-width="3.4"/>
<circle cx="625.01" cy="1222.36" r="9.1" fill="#939eea" stroke="#fff" stroke-width="3.4"/>
<circle cx="671.30" cy="1212.18" r="9.1" fill="#939eea" stroke="#fff" stroke-width="3.4"/>
<circle cx="717.59" cy="1191.82" r="9.1" fill="#939eea" stroke="#fff" stroke-width="3.4"/>
<circle cx="763.88" cy="1171.46" r="9.1" fill="#939eea" stroke="#fff" stroke-width="3.4"/>
<circle cx="810.17" cy="1212.18" r="9.1" fill="#939eea" stroke="#fff" stroke-width="3.4"/>
<circle cx="856.46" cy="1242.72" r="9.1" fill="#939eea" stroke="#fff" stroke-width="3.4"/>
<circle cx="902.75" cy="1202.00" r="9.1" fill="#939eea" stroke="#fff" stroke-width="3.4"/>
<circle cx="949.04" cy="1273.26" r="9.1" fill="#939eea" stroke="#fff" stroke-width="3.4"/>
<circle cx="995.33" cy="1242.72" r="9.1" fill="#939eea" stroke="#fff" stroke-width="3.4"/>
<circle cx="1087.91" cy="1283.44" r="9.1" fill="#939eea" stroke="#fff" stroke-width="3.4"/>
<circle cx="1134.20" cy="1293.62" r="9.1" fill="#939eea" stroke="#fff" stroke-width="3.4"/>
<circle cx="1273.07" cy="1293.62" r="9.1" fill="#939eea" stroke="#fff" stroke-width="3.4"/>
<circle cx="1365.65" cy="1252.90" r="9.1" fill="#939eea" stroke="#fff" stroke-width="3.4"/>
<circle cx="1411.94" cy="1283.44" r="9.1" fill="#939eea" stroke="#fff" stroke-width="3.4"/>
</g>
</svg>
<div class="b" style="left:1400px;top:1310px;width:34.6px;height:36px;overflow:hidden;">
<span class="t" style="left:10.00px;top:10.39px;font-size:18.2px;color:#adadad;font-weight:700;letter-spacing:.5px;">04/23</span>
</div>
<div class="card" style="left:1486px;top:598px;width:1352px;height:380px;box-shadow:0 2px 12px rgba(0,0,0,0.045);"></div>
<span class="t" style="left:1514.00px;top:637px;font-size:18.6px;color:#444;font-weight:700;letter-spacing:0.016px;">Profile Types</span>
<div class="b" style="left:1514.00px;top:680.20px;width:1296.00px;height:2.00px;background:#c6c6c6;"></div>
<span class="t" style="left:1535.20px;top:710px;font-size:17.6px;color:#333;font-weight:700;transform-origin:0.00px 0;transform:scaleX(1.0954);">63</span>
<span class="t" style="left:1569.20px;top:710px;font-size:17.6px;color:#444;letter-spacing:0.295px;">Total requests</span>
<div class="b" style="left:1534.00px;top:738.00px;width:1030.40px;height:10.00px;background:#ececec;border-radius:4.4px;"></div>
<div class="b" style="left:1534.00px;top:738.00px;width:261.69px;height:10.00px;background:#b8b3f6;border-radius:4.4px;"></div>
<span class="t" style="left:2611.60px;top:736px;font-size:17.6px;color:#333;font-weight:700;transform-origin:0.00px 0;transform:scaleX(1.0954);">16</span>
<span class="t" style="left:2644.60px;top:734px;font-size:17.6px;color:#444;letter-spacing:0.168px;">Consumer</span>
<div class="b" style="left:1534.00px;top:784.00px;width:1030.40px;height:11.80px;background:#ececec;border-radius:4.4px;"></div>
<div class="b" style="left:1534.00px;top:784.00px;width:163.56px;height:11.80px;background:#d7b8f8;border-radius:4.4px;"></div>
<span class="t" style="left:2611.60px;top:784px;font-size:17.6px;color:#333;font-weight:700;transform-origin:0.00px 0;transform:scaleX(1.0954);">10</span>
<span class="t" style="left:2644.60px;top:782px;font-size:17.6px;color:#444;letter-spacing:0.170px;">Current Employee</span>
<div class="b" style="left:1534.00px;top:832.10px;width:1030.40px;height:9.80px;background:#ececec;border-radius:4.4px;"></div>
<div class="b" style="left:1534.00px;top:832.10px;width:179.91px;height:9.80px;background:#ccd3f4;border-radius:4.4px;"></div>
<span class="t" style="left:2611.60px;top:830px;font-size:17.6px;color:#333;font-weight:700;transform-origin:0.00px 0;transform:scaleX(1.1525);">11</span>
<span class="t" style="left:2644.60px;top:830px;font-size:17.6px;color:#444;letter-spacing:0.301px;">Customer</span>
<div class="b" style="left:1534.00px;top:880.00px;width:1030.40px;height:10.00px;background:#ececec;border-radius:4.4px;"></div>
<div class="b" style="left:1534.00px;top:880.00px;width:261.69px;height:10.00px;background:#c09ae8;border-radius:4.4px;"></div>
<span class="t" style="left:2611.60px;top:878px;font-size:17.6px;color:#333;font-weight:700;transform-origin:0.00px 0;transform:scaleX(1.0954);">16</span>
<span class="t" style="left:2644.60px;top:876px;font-size:17.6px;color:#444;letter-spacing:0.098px;">Former Employee</span>
<div class="b" style="left:1534.00px;top:926.20px;width:1030.40px;height:11.60px;background:#ececec;border-radius:4.4px;"></div>
<div class="b" style="left:1534.00px;top:926.20px;width:163.56px;height:11.60px;background:#a9b8f6;border-radius:4.4px;"></div>
<span class="t" style="left:2611.60px;top:926px;font-size:17.6px;color:#333;font-weight:700;transform-origin:0.00px 0;transform:scaleX(1.0954);">10</span>
<span class="t" style="left:2644.60px;top:924px;font-size:17.6px;color:#444;letter-spacing:0.155px;">User</span>
<div class="card" style="left:1486px;top:1000px;width:1352px;height:380px;box-shadow:0 2px 12px rgba(0,0,0,0.045);"></div>
<span class="t" style="left:1514.00px;top:1040px;font-size:18.6px;color:#444;font-weight:700;">Requests Location</span>
<div class="b" style="left:1514.00px;top:1082.20px;width:1296.00px;height:2.00px;background:#c6c6c6;"></div>
<div class="b" style="left:1514.00px;top:1102.40px;width:1296.00px;height:252.00px;background:#f6f6f6;border-radius:15px;"></div>
<svg class="b" style="left:1514.00px;top:1102.40px;border-radius:15px;overflow:hidden;" width="1296.00" height="252.00" viewBox="1514.00 1102.40 1296.00 252.00">
<defs><pattern id="dots" patternUnits="userSpaceOnUse" x="1934.065" y="1141.665" width="6.67" height="6.67"><circle cx="3.335" cy="3.335" r="2.55" fill="#c3c3c3"/></pattern></defs>
<polygon points="1929.9,1144.7 1938.3,1141.1 1957.7,1143.5 1974.6,1144.1 1998.8,1146.5 2010.8,1148.6 2022.9,1148.3 2035.0,1149.5 2040.1,1153.2 2032.8,1158.0 2029.0,1165.3 2030.2,1172.5 2037.4,1177.6 2047.1,1182.4 2051.0,1174.9 2052.2,1162.8 2050.7,1156.8 2054.4,1148.3 2057.4,1141.7 2065.2,1142.3 2067.6,1150.8 2066.7,1160.4 2071.3,1167.7 2080.9,1179.8 2083.8,1184.8 2088.2,1190.0 2083.4,1191.8 2078.5,1187.3 2071.3,1193.3 2065.2,1195.7 2059.2,1203.0 2051.9,1211.4 2048.5,1218.7 2047.3,1225.9 2044.9,1221.1 2042.5,1216.3 2032.8,1219.9 2024.4,1221.1 2022.9,1227.1 2024.4,1235.6 2030.4,1240.4 2038.9,1235.6 2040.1,1241.6 2035.3,1245.3 2044.9,1250.1 2054.6,1256.1 2059.4,1260.7 2052.2,1260.7 2041.3,1252.5 2029.2,1245.3 2015.9,1239.2 2009.9,1227.1 2003.6,1219.6 1999.0,1216.3 1990.5,1213.8 1986.7,1203.0 1986.7,1192.1 1981.8,1184.8 1977.3,1177.6 1973.4,1172.7 1967.6,1169.1 1957.7,1164.3 1948.0,1165.5 1938.6,1172.7 1927.7,1177.6 1936.2,1169.1 1930.1,1165.5 1926.3,1159.5 1930.1,1155.8 1925.3,1153.4" fill="url(#dots)" stroke="#fff" stroke-width="1.8" stroke-linejoin="round"/>
<polygon points="1905.7,1147.4 1918.0,1152.2 1919.2,1158.2 1905.7,1154.6" fill="url(#dots)" stroke="#fff" stroke-width="1.8" stroke-linejoin="round"/>
<polygon points="1993.9,1136.3 2012.1,1135.6 2015.7,1141.1 1998.8,1141.7" fill="url(#dots)" stroke="#fff" stroke-width="1.8" stroke-linejoin="round"/>
<polygon points="1985.5,1135.0 1991.5,1133.8 1990.9,1139.9 1986.1,1139.3" fill="url(#dots)" stroke="#fff" stroke-width="1.8" stroke-linejoin="round"/>
<polygon points="2033.8,1136.3 2047.1,1135.6 2051.9,1139.9 2041.1,1141.7 2035.0,1140.5" fill="url(#dots)" stroke="#fff" stroke-width="1.8" stroke-linejoin="round"/>
<polygon points="2029.0,1109.7 2047.1,1106.0 2068.9,1104.8 2071.3,1108.5 2059.2,1114.5 2054.4,1120.5 2044.7,1121.1 2041.1,1114.5 2030.2,1113.9" fill="url(#dots)" stroke="#fff" stroke-width="1.8" stroke-linejoin="round"/>
<polygon points="2055.6,1142.3 2066.4,1141.1 2073.7,1148.3 2071.3,1154.4 2062.8,1153.2 2059.2,1148.3" fill="url(#dots)" stroke="#fff" stroke-width="1.8" stroke-linejoin="round"/>
<polygon points="2015.7,1119.3 2025.3,1118.1 2026.6,1124.2 2018.1,1124.8" fill="url(#dots)" stroke="#fff" stroke-width="1.8" stroke-linejoin="round"/>
<polygon points="2072.1,1122.0 2077.1,1113.0 2088.1,1106.0 2100.1,1102.6 2130.2,1102.6 2146.6,1109.4 2137.2,1115.0 2133.8,1125.0 2136.6,1136.0 2126.5,1147.4 2115.1,1153.0 2104.1,1162.0 2099.1,1166.0 2092.5,1161.0 2088.5,1147.4 2082.5,1135.0 2075.1,1129.0" fill="url(#dots)" stroke="#fff" stroke-width="1.8" stroke-linejoin="round"/>
<polygon points="2056.5,1253.1 2064.5,1249.1 2072.5,1250.7 2080.5,1253.5 2092.5,1259.5 2100.5,1269.1 2112.5,1273.1 2113.1,1279.1 2108.5,1287.1 2104.5,1291.5 2096.5,1299.5 2087.1,1311.1 2081.1,1315.1 2078.5,1325.1 2071.1,1335.1 2067.1,1347.6 2061.1,1351.6 2058.1,1343.1 2059.7,1325.1 2062.1,1305.1 2060.1,1291.5 2052.5,1281.5 2048.5,1271.5 2050.1,1261.5" fill="url(#dots)" stroke="#fff" stroke-width="1.8" stroke-linejoin="round"/>
<polygon points="2046.1,1231.5 2056.1,1233.1 2061.1,1236.3 2054.1,1235.9 2047.1,1233.9" fill="url(#dots)" stroke="#fff" stroke-width="1.8" stroke-linejoin="round"/>
<polygon points="2064.1,1237.5 2070.1,1237.5 2069.7,1239.5 2064.5,1239.5" fill="url(#dots)" stroke="#fff" stroke-width="1.8" stroke-linejoin="round"/>
<polygon points="2151.2,1199.9 2150.6,1207.8 2161.7,1208.9 2165.4,1202.5 2172.8,1197.2 2177.6,1195.1 2185.0,1203.6 2189.2,1208.9 2187.6,1203.1 2182.3,1195.1 2185.5,1193.0 2189.8,1198.3 2193.5,1205.2 2196.1,1208.9 2198.2,1203.6 2201.9,1204.6 2204.0,1209.9 2214.6,1211.0 2223.1,1208.9 2217.8,1215.8 2214.6,1220.0 2213.5,1224.7 2216.1,1225.1 2224.1,1239.1 2231.1,1248.1 2240.1,1247.1 2250.1,1237.1 2252.1,1231.1 2246.1,1229.1 2242.1,1223.1 2234.5,1217.5 2232.1,1213.1 2237.1,1215.1 2240.1,1221.1 2248.1,1224.1 2260.1,1222.1 2266.1,1228.1 2272.1,1240.1 2278.5,1254.1 2284.5,1236.1 2290.1,1229.1 2296.1,1225.5 2300.1,1232.1 2308.1,1240.1 2312.5,1256.1 2317.1,1262.1 2315.1,1248.1 2320.1,1244.1 2328.5,1248.1 2331.1,1236.1 2328.1,1231.1 2332.1,1229.1 2340.1,1225.1 2344.1,1217.1 2347.1,1208.1 2350.1,1203.1 2353.1,1199.1 2348.1,1196.1 2354.1,1193.1 2359.1,1195.1 2361.1,1203.1 2363.1,1195.1 2360.1,1189.1 2367.1,1183.1 2361.1,1176.0 2369.1,1166.0 2381.2,1164.0 2389.2,1172.0 2391.2,1180.1 2397.2,1164.0 2401.2,1162.0 2417.2,1160.0 2423.2,1154.0 2421.2,1146.0 2401.2,1143.0 2381.2,1141.0 2361.1,1138.0 2347.1,1135.0 2329.1,1135.0 2321.1,1125.0 2309.1,1121.0 2290.5,1129.0 2280.1,1135.0 2280.2,1134.5 2272.8,1139.8 2267.5,1135.6 2263.5,1136.6 2262.2,1145.1 2246.3,1147.2 2235.8,1148.3 2231.5,1149.3 2227.3,1154.6 2222.2,1156.7 2225.2,1152.5 2219.9,1148.3 2212.5,1144.1 2204.0,1141.9 2195.6,1144.1 2187.1,1149.3 2179.7,1156.7 2172.3,1163.1 2175.5,1169.4 2180.8,1171.5 2183.9,1174.7 2189.2,1169.4 2193.5,1159.9 2198.7,1154.6 2195.8,1159.9 2197.9,1167.3 2206.4,1167.3 2204.0,1169.4 2197.7,1173.7 2193.5,1179.0 2181.0,1180.0 2180.3,1173.7 2178.1,1174.0 2177.8,1180.0 2175.7,1180.0 2172.3,1184.2 2165.1,1188.5 2158.8,1190.6 2160.9,1194.8 2161.7,1199.0" fill="url(#dots)" stroke="#fff" stroke-width="1.8" stroke-linejoin="round"/>
<polygon points="2157.7,1171.5 2161.7,1173.5 2160.7,1179.8 2165.4,1184.0 2166.0,1188.3 2158.6,1189.3 2160.7,1184.0 2157.7,1179.8 2156.4,1174.5" fill="url(#dots)" stroke="#fff" stroke-width="1.8" stroke-linejoin="round"/>
<polygon points="2150.1,1178.7 2154.3,1177.7 2154.9,1183.0 2150.6,1184.0" fill="url(#dots)" stroke="#fff" stroke-width="1.8" stroke-linejoin="round"/>
<polygon points="2132.1,1154.4 2140.6,1152.8 2143.2,1155.5 2137.4,1158.1 2132.6,1156.5" fill="url(#dots)" stroke="#fff" stroke-width="1.8" stroke-linejoin="round"/>
<polygon points="2179.7,1115.3 2192.4,1114.2 2201.9,1114.8 2193.5,1119.5 2187.1,1123.7 2182.9,1119.5" fill="url(#dots)" stroke="#fff" stroke-width="1.8" stroke-linejoin="round"/>
<polygon points="2238.9,1138.6 2242.1,1131.2 2261.1,1123.7 2261.7,1125.3 2245.3,1132.2 2242.1,1139.1" fill="url(#dots)" stroke="#fff" stroke-width="1.8" stroke-linejoin="round"/>
<polygon points="2149.0,1215.8 2156.4,1210.5 2164.9,1209.6 2177.6,1208.6 2179.7,1213.8 2189.2,1217.0 2197.7,1216.0 2206.1,1217.0 2212.5,1219.5 2214.6,1226.3 2219.9,1236.9 2225.2,1246.4 2229.1,1248.1 2238.5,1249.5 2234.5,1255.5 2228.5,1267.5 2222.5,1279.5 2220.5,1291.5 2212.5,1303.5 2204.5,1313.5 2194.4,1315.5 2190.4,1307.5 2184.4,1291.5 2182.4,1275.5 2180.4,1263.5 2176.4,1253.5 2160.4,1255.5 2146.4,1253.5 2140.0,1243.5 2140.8,1233.1 2140.6,1229.5 2145.9,1220.0" fill="url(#dots)" stroke="#fff" stroke-width="1.8" stroke-linejoin="round"/>
<polygon points="2232.1,1284.7 2235.7,1287.1 2232.5,1299.5 2228.1,1300.3 2228.1,1291.5" fill="url(#dots)" stroke="#fff" stroke-width="1.8" stroke-linejoin="round"/>
<polygon points="2366.5,1195.5 2370.6,1189.1 2372.6,1181.1 2368.5,1183.1 2365.1,1191.5" fill="url(#dots)" stroke="#fff" stroke-width="1.8" stroke-linejoin="round"/>
<polygon points="2369.7,1167.0 2371.8,1167.4 2369.3,1179.5 2367.7,1179.1" fill="url(#dots)" stroke="#fff" stroke-width="1.8" stroke-linejoin="round"/>
<polygon points="2301.7,1256.7 2305.1,1256.1 2313.1,1268.7 2318.5,1275.5 2314.5,1277.5 2304.5,1265.5" fill="url(#dots)" stroke="#fff" stroke-width="1.8" stroke-linejoin="round"/>
<polygon points="2320.1,1263.5 2328.1,1256.7 2332.5,1265.1 2326.5,1271.5 2320.5,1269.5" fill="url(#dots)" stroke="#fff" stroke-width="1.8" stroke-linejoin="round"/>
<polygon points="2318.1,1278.7 2332.5,1280.3 2332.1,1282.3 2318.5,1281.1" fill="url(#dots)" stroke="#fff" stroke-width="1.8" stroke-linejoin="round"/>
<polygon points="2336.1,1239.1 2340.1,1243.5 2338.5,1255.5 2335.1,1249.5" fill="url(#dots)" stroke="#fff" stroke-width="1.8" stroke-linejoin="round"/>
<polygon points="2360.1,1270.7 2372.6,1272.7 2382.6,1279.1 2372.6,1279.9 2362.1,1275.5" fill="url(#dots)" stroke="#fff" stroke-width="1.8" stroke-linejoin="round"/>
<polygon points="2338.1,1265.1 2344.1,1264.1 2342.5,1273.5 2339.1,1271.1" fill="url(#dots)" stroke="#fff" stroke-width="1.8" stroke-linejoin="round"/>
<polygon points="2328.1,1297.1 2336.1,1291.1 2346.1,1285.1 2356.1,1283.1 2360.1,1287.5 2368.1,1283.1 2372.6,1293.1 2380.6,1301.1 2382.6,1311.1 2376.6,1319.5 2366.5,1321.5 2356.5,1313.5 2344.5,1311.1 2330.5,1315.5 2327.1,1305.1" fill="url(#dots)" stroke="#fff" stroke-width="1.8" stroke-linejoin="round"/>
<polygon points="2371.2,1326.7 2375.8,1327.1 2374.2,1331.1 2371.8,1330.3" fill="url(#dots)" stroke="#fff" stroke-width="1.8" stroke-linejoin="round"/>
<polygon points="2412.6,1321.5 2418.6,1319.5 2416.6,1325.1 2408.2,1335.1 2403.8,1335.9 2409.2,1328.7" fill="url(#dots)" stroke="#fff" stroke-width="1.8" stroke-linejoin="round"/>
<polygon points="2203.0,1194.6 2210.4,1191.4 2217.8,1193.5 2224.1,1197.8 2220.9,1201.2 2210.4,1201.2 2204.0,1199.0" fill="#f6f6f6" stroke="#fff" stroke-width="1.6" stroke-linejoin="round"/>
<polygon points="2231.5,1186.1 2235.8,1183.0 2240.0,1186.1 2238.9,1194.6 2241.0,1203.1 2236.8,1205.4 2233.6,1198.8 2234.7,1192.5" fill="#f6f6f6" stroke="#fff" stroke-width="1.6" stroke-linejoin="round"/>
<polygon points="2015.7,1167.7 2022.9,1167.1 2021.7,1172.5 2016.9,1172.3" fill="#f6f6f6" stroke="#fff" stroke-width="1.6" stroke-linejoin="round"/>
<polyline points="1986.7,1191.8 2010.8,1191.8 2035.0,1192.1 2045.9,1196.7 2051.9,1193.1 2061.6,1194.3 2071.3,1193.3" fill="none" stroke="#fff" stroke-width="1.3" stroke-linejoin="round"/>
<polyline points="1990.5,1213.8 1998.8,1216.3 2006.0,1220.8 2015.7,1225.7 2022.9,1227.1" fill="none" stroke="#fff" stroke-width="1.3" stroke-linejoin="round"/>
<polyline points="1967.6,1169.1 1967.3,1145.0" fill="none" stroke="#fff" stroke-width="1.3" stroke-linejoin="round"/>
<polyline points="2010.8,1148.6 2010.8,1191.8" fill="none" stroke="#fff" stroke-width="1.3" stroke-linejoin="round"/>
<polyline points="2035.0,1177.3 2035.0,1192.1" fill="none" stroke="#fff" stroke-width="1.3" stroke-linejoin="round"/>
<polyline points="2010.8,1170.1 2030.2,1172.5" fill="none" stroke="#fff" stroke-width="1.3" stroke-linejoin="round"/>
<polyline points="2035.3,1245.3 2030.4,1240.4" fill="none" stroke="#fff" stroke-width="1.3" stroke-linejoin="round"/>
<polyline points="2044.9,1250.1 2042.3,1245.0" fill="none" stroke="#fff" stroke-width="1.3" stroke-linejoin="round"/>
<polyline points="2060.1,1265.1 2072.1,1271.1 2084.1,1267.1 2100.1,1275.1" fill="none" stroke="#fff" stroke-width="1.3" stroke-linejoin="round"/>
<polyline points="2060.1,1291.1 2072.1,1287.1 2084.1,1295.1 2096.5,1299.5" fill="none" stroke="#fff" stroke-width="1.3" stroke-linejoin="round"/>
<polyline points="2062.1,1305.1 2072.1,1305.1 2081.1,1315.1" fill="none" stroke="#fff" stroke-width="1.3" stroke-linejoin="round"/>
<polyline points="2072.1,1271.1 2072.1,1287.1" fill="none" stroke="#fff" stroke-width="1.3" stroke-linejoin="round"/>
<polyline points="2084.1,1267.1 2086.1,1283.1 2084.1,1295.1" fill="none" stroke="#fff" stroke-width="1.3" stroke-linejoin="round"/>
<polyline points="2059.7,1325.1 2068.1,1323.1 2078.5,1325.1" fill="none" stroke="#fff" stroke-width="1.3" stroke-linejoin="round"/>
<polyline points="2066.1,1311.1 2067.1,1347.6" fill="none" stroke="#fff" stroke-width="1.3" stroke-linejoin="round"/>
<polyline points="2140.6,1229.5 2156.4,1227.4 2172.3,1224.2 2189.2,1217.0" fill="none" stroke="#fff" stroke-width="1.3" stroke-linejoin="round"/>
<polyline points="2164.9,1209.6 2167.0,1221.0 2172.3,1224.2 2174.4,1236.9" fill="none" stroke="#fff" stroke-width="1.3" stroke-linejoin="round"/>
<polyline points="2179.7,1213.8 2182.9,1226.3 2180.8,1236.9" fill="none" stroke="#fff" stroke-width="1.3" stroke-linejoin="round"/>
<polyline points="2197.7,1216.0 2198.7,1228.4 2197.7,1241.1" fill="none" stroke="#fff" stroke-width="1.3" stroke-linejoin="round"/>
<polyline points="2206.1,1217.0 2207.2,1228.4 2219.9,1236.9" fill="none" stroke="#fff" stroke-width="1.3" stroke-linejoin="round"/>
<polyline points="2156.4,1227.4 2157.5,1241.1" fill="none" stroke="#fff" stroke-width="1.3" stroke-linejoin="round"/>
<polyline points="2182.9,1226.3 2198.7,1228.4 2207.2,1228.4" fill="none" stroke="#fff" stroke-width="1.3" stroke-linejoin="round"/>
<polyline points="2142.0,1243.5 2160.0,1241.1 2180.0,1245.1 2204.1,1243.1 2228.1,1247.1" fill="none" stroke="#fff" stroke-width="1.3" stroke-linejoin="round"/>
<polyline points="2160.0,1241.1 2160.4,1255.5" fill="none" stroke="#fff" stroke-width="1.3" stroke-linejoin="round"/>
<polyline points="2180.0,1245.1 2180.4,1263.5" fill="none" stroke="#fff" stroke-width="1.3" stroke-linejoin="round"/>
<polyline points="2204.1,1243.1 2206.1,1267.1 2222.5,1279.5" fill="none" stroke="#fff" stroke-width="1.3" stroke-linejoin="round"/>
<polyline points="2182.4,1275.5 2204.1,1275.1 2222.5,1279.5" fill="none" stroke="#fff" stroke-width="1.3" stroke-linejoin="round"/>
<polyline points="2186.0,1293.1 2204.1,1291.1 2220.5,1291.5" fill="none" stroke="#fff" stroke-width="1.3" stroke-linejoin="round"/>
<polyline points="2204.1,1275.1 2204.1,1313.1" fill="none" stroke="#fff" stroke-width="1.3" stroke-linejoin="round"/>
<polyline points="2192.0,1267.1 2192.0,1293.1" fill="none" stroke="#fff" stroke-width="1.3" stroke-linejoin="round"/>
<polyline points="2216.1,1255.1 2214.1,1275.1" fill="none" stroke="#fff" stroke-width="1.3" stroke-linejoin="round"/>
<polyline points="2161.7,1199.0 2165.4,1202.5" fill="none" stroke="#fff" stroke-width="1.3" stroke-linejoin="round"/>
<polyline points="2172.8,1197.2 2172.3,1184.2" fill="none" stroke="#fff" stroke-width="1.3" stroke-linejoin="round"/>
<polyline points="2177.8,1180.0 2177.6,1195.1" fill="none" stroke="#fff" stroke-width="1.3" stroke-linejoin="round"/>
<polyline points="2193.5,1179.0 2189.2,1186.1 2185.5,1193.0" fill="none" stroke="#fff" stroke-width="1.3" stroke-linejoin="round"/>
<polyline points="2181.0,1180.0 2185.0,1186.1 2193.5,1186.1 2197.7,1193.5 2203.0,1194.6" fill="none" stroke="#fff" stroke-width="1.3" stroke-linejoin="round"/>
<polyline points="2197.7,1173.7 2210.4,1177.7 2217.8,1186.1 2217.8,1193.5" fill="none" stroke="#fff" stroke-width="1.3" stroke-linejoin="round"/>
<polyline points="2206.4,1167.3 2214.6,1169.2 2210.4,1177.7" fill="none" stroke="#fff" stroke-width="1.3" stroke-linejoin="round"/>
<polyline points="2193.5,1186.1 2189.8,1198.3" fill="none" stroke="#fff" stroke-width="1.3" stroke-linejoin="round"/>
<polyline points="2197.7,1193.5 2193.5,1205.2" fill="none" stroke="#fff" stroke-width="1.3" stroke-linejoin="round"/>
<polyline points="2204.0,1199.0 2201.9,1204.6" fill="none" stroke="#fff" stroke-width="1.3" stroke-linejoin="round"/>
<polyline points="2195.6,1144.1 2193.5,1159.9" fill="none" stroke="#fff" stroke-width="1.3" stroke-linejoin="round"/>
<polyline points="2204.0,1141.9 2198.7,1154.6" fill="none" stroke="#fff" stroke-width="1.3" stroke-linejoin="round"/>
<polyline points="2212.5,1144.1 2206.4,1167.3" fill="none" stroke="#fff" stroke-width="1.3" stroke-linejoin="round"/>
<polyline points="2223.1,1208.9 2224.1,1201.2" fill="none" stroke="#fff" stroke-width="1.3" stroke-linejoin="round"/>
<polyline points="2224.1,1197.8 2231.5,1192.5" fill="none" stroke="#fff" stroke-width="1.3" stroke-linejoin="round"/>
<polyline points="2232.1,1183.1 2248.1,1177.0 2272.1,1181.1 2292.1,1183.1 2320.1,1179.1 2344.1,1183.1 2360.1,1175.4" fill="none" stroke="#fff" stroke-width="1.3" stroke-linejoin="round"/>
<polyline points="2240.1,1189.1 2260.1,1199.1 2272.1,1207.1 2292.1,1207.1 2308.1,1215.1 2320.1,1207.1 2340.1,1219.1" fill="none" stroke="#fff" stroke-width="1.3" stroke-linejoin="round"/>
<polyline points="2232.1,1213.1 2244.1,1207.1 2260.1,1207.1 2260.1,1221.5" fill="none" stroke="#fff" stroke-width="1.3" stroke-linejoin="round"/>
<polyline points="2260.1,1207.1 2272.1,1207.1" fill="none" stroke="#fff" stroke-width="1.3" stroke-linejoin="round"/>
<polyline points="2296.1,1225.5 2292.1,1215.1 2280.1,1213.1 2272.1,1207.1" fill="none" stroke="#fff" stroke-width="1.3" stroke-linejoin="round"/>
<polyline points="2300.1,1232.1 2308.1,1223.1 2320.1,1227.1 2331.1,1236.1" fill="none" stroke="#fff" stroke-width="1.3" stroke-linejoin="round"/>
<polyline points="2320.1,1227.1 2320.1,1244.1" fill="none" stroke="#fff" stroke-width="1.3" stroke-linejoin="round"/>
<polyline points="2308.1,1223.1 2308.1,1215.1" fill="none" stroke="#fff" stroke-width="1.3" stroke-linejoin="round"/>
<polyline points="2216.1,1225.1 2228.1,1223.1 2234.5,1217.5" fill="none" stroke="#fff" stroke-width="1.3" stroke-linejoin="round"/>
<polyline points="2224.1,1239.1 2240.1,1235.1 2250.1,1237.1" fill="none" stroke="#fff" stroke-width="1.3" stroke-linejoin="round"/>
<polyline points="2228.1,1223.1 2240.1,1235.1" fill="none" stroke="#fff" stroke-width="1.3" stroke-linejoin="round"/>
<polyline points="2359.1,1195.1 2354.1,1193.1" fill="none" stroke="#fff" stroke-width="1.3" stroke-linejoin="round"/>
<polyline points="2292.1,1183.1 2296.1,1195.1 2308.1,1199.1 2320.1,1179.1" fill="none" stroke="#fff" stroke-width="1.3" stroke-linejoin="round"/>
<circle cx="2004.8" cy="1190.6" r="6" fill="#5875de" fill-opacity="0.26"/>
<circle cx="1998.8" cy="1196.7" r="6" fill="#5875de" fill-opacity="0.26"/>
<circle cx="2020.5" cy="1196.7" r="6" fill="#5875de" fill-opacity="0.26"/>
<circle cx="2024.1" cy="1211.2" r="6" fill="#5875de" fill-opacity="0.26"/>
<circle cx="2003.6" cy="1214.2" r="6" fill="#5875de" fill-opacity="0.26"/>
<circle cx="2035.0" cy="1218.4" r="6" fill="#5875de" fill-opacity="0.26"/>
<circle cx="2049.5" cy="1214.8" r="6" fill="#5875de" fill-opacity="0.26"/>
<circle cx="2064.0" cy="1195.5" r="6" fill="#5875de" fill-opacity="0.26"/>
<circle cx="2038.6" cy="1208.8" r="6" fill="#5875de" fill-opacity="0.26"/>
<circle cx="1989.1" cy="1191.5" r="2.7" fill="#5875de"/>
<circle cx="1988.1" cy="1196.7" r="2.7" fill="#5875de"/>
<circle cx="1999.1" cy="1197.1" r="2.7" fill="#5875de"/>
<circle cx="2005.1" cy="1192.1" r="2.7" fill="#5875de"/>
<circle cx="2009.7" cy="1199.5" r="2.7" fill="#5875de"/>
<circle cx="2003.1" cy="1204.1" r="2.7" fill="#5875de"/>
<circle cx="1995.7" cy="1206.7" r="2.7" fill="#5875de"/>
<circle cx="1991.7" cy="1210.5" r="2.7" fill="#5875de"/>
<circle cx="2012.1" cy="1205.5" r="2.7" fill="#5875de"/>
<circle cx="2011.1" cy="1212.7" r="2.7" fill="#5875de"/>
<circle cx="2003.7" cy="1214.7" r="2.7" fill="#5875de"/>
<circle cx="2020.7" cy="1191.1" r="2.7" fill="#5875de"/>
<circle cx="2021.1" cy="1197.1" r="2.7" fill="#5875de"/>
<circle cx="2029.1" cy="1194.1" r="2.7" fill="#5875de"/>
<circle cx="2035.1" cy="1197.1" r="2.7" fill="#5875de"/>
<circle cx="2042.1" cy="1198.5" r="2.7" fill="#5875de"/>
<circle cx="2022.5" cy="1202.7" r="2.7" fill="#5875de"/>
<circle cx="2029.7" cy="1200.5" r="2.7" fill="#5875de"/>
<circle cx="2024.5" cy="1211.5" r="2.7" fill="#5875de"/>
<circle cx="2023.7" cy="1218.7" r="2.7" fill="#5875de"/>
<circle cx="2031.1" cy="1207.1" r="2.7" fill="#5875de"/>
<circle cx="2036.5" cy="1204.1" r="2.7" fill="#5875de"/>
<circle cx="2032.1" cy="1212.1" r="2.7" fill="#5875de"/>
<circle cx="2038.1" cy="1210.1" r="2.7" fill="#5875de"/>
<circle cx="2040.1" cy="1207.1" r="2.7" fill="#5875de"/>
<circle cx="2043.1" cy="1205.1" r="2.7" fill="#5875de"/>
<circle cx="2046.1" cy="1207.1" r="2.7" fill="#5875de"/>
<circle cx="2044.1" cy="1212.1" r="2.7" fill="#5875de"/>
<circle cx="2048.1" cy="1213.1" r="2.7" fill="#5875de"/>
<circle cx="2041.1" cy="1215.1" r="2.7" fill="#5875de"/>
<circle cx="2035.1" cy="1216.1" r="2.7" fill="#5875de"/>
<circle cx="2032.1" cy="1218.7" r="2.7" fill="#5875de"/>
<circle cx="2046.5" cy="1224.1" r="2.7" fill="#5875de"/>
<circle cx="2050.1" cy="1210.1" r="2.7" fill="#5875de"/>
<circle cx="2053.1" cy="1206.1" r="2.7" fill="#5875de"/>
<circle cx="2056.1" cy="1203.1" r="2.7" fill="#5875de"/>
<circle cx="2059.1" cy="1200.1" r="2.7" fill="#5875de"/>
<circle cx="2061.1" cy="1198.1" r="2.7" fill="#5875de"/>
<circle cx="2064.1" cy="1196.1" r="2.7" fill="#5875de"/>
<circle cx="2061.1" cy="1201.5" r="2.7" fill="#5875de"/>
<circle cx="2055.1" cy="1205.1" r="2.7" fill="#5875de"/>
<circle cx="2051.1" cy="1208.1" r="2.7" fill="#5875de"/>
<circle cx="1937.6" cy="1234.1" r="2.7" fill="#5875de"/>
<circle cx="2078.9" cy="1257.9" r="2.7" fill="#5875de"/>
<circle cx="2249.1" cy="1205.7" r="2.7" fill="#5875de"/>
<circle cx="2215.1" cy="1214.5" r="2.7" fill="#5875de"/>
<circle cx="2213.5" cy="1219.1" r="2.7" fill="#5875de"/>
<circle cx="2188.2" cy="1226.3" r="2.7" fill="#5875de"/>
<circle cx="2203.7" cy="1283.7" r="2.7" fill="#5875de"/>
<circle cx="2212.7" cy="1283.7" r="2.7" fill="#5875de"/>
<circle cx="2326.9" cy="1265.9" r="2.7" fill="#5875de"/>
<circle cx="2036.8" cy="1203.3" r="2.7" fill="#5875de"/>
<circle cx="2039.8" cy="1205.1" r="2.7" fill="#5875de"/>
<circle cx="2042.9" cy="1206.9" r="2.7" fill="#5875de"/>
<circle cx="2045.9" cy="1208.8" r="2.7" fill="#5875de"/>
<circle cx="2038.0" cy="1208.8" r="2.7" fill="#5875de"/>
<circle cx="2041.1" cy="1210.6" r="2.7" fill="#5875de"/>
<circle cx="2044.1" cy="1212.4" r="2.7" fill="#5875de"/>
<circle cx="2047.1" cy="1213.6" r="2.7" fill="#5875de"/>
<circle cx="2035.0" cy="1212.4" r="2.7" fill="#5875de"/>
<circle cx="2038.0" cy="1214.2" r="2.7" fill="#5875de"/>
<circle cx="2041.1" cy="1214.8" r="2.7" fill="#5875de"/>
<circle cx="2032.6" cy="1216.0" r="2.7" fill="#5875de"/>
<circle cx="2035.6" cy="1217.8" r="2.7" fill="#5875de"/>
<circle cx="2050.7" cy="1209.4" r="2.7" fill="#5875de"/>
<circle cx="2052.5" cy="1206.9" r="2.7" fill="#5875de"/>
<circle cx="2055.0" cy="1204.5" r="2.7" fill="#5875de"/>
<circle cx="2057.4" cy="1202.1" r="2.7" fill="#5875de"/>
<circle cx="2059.2" cy="1199.7" r="2.7" fill="#5875de"/>
<circle cx="2061.6" cy="1197.9" r="2.7" fill="#5875de"/>
<circle cx="2048.3" cy="1211.8" r="2.7" fill="#5875de"/>
<circle cx="2045.3" cy="1215.4" r="2.7" fill="#5875de"/>
<circle cx="2042.3" cy="1216.6" r="2.7" fill="#5875de"/>
<circle cx="2039.2" cy="1219.0" r="2.7" fill="#5875de"/>
<circle cx="2049.5" cy="1206.3" r="2.7" fill="#5875de"/>
<circle cx="2047.1" cy="1205.1" r="2.7" fill="#5875de"/>
<circle cx="2044.1" cy="1203.9" r="2.7" fill="#5875de"/>
<circle cx="2030.2" cy="1206.3" r="2.7" fill="#5875de"/>
<circle cx="2030.8" cy="1211.2" r="2.7" fill="#5875de"/>
<circle cx="2033.2" cy="1208.8" r="2.7" fill="#5875de"/>
<circle cx="2036.2" cy="1208.2" r="2.7" fill="#5875de"/>
</svg>
<div class="b" style="left:2766.00px;top:1262.80px;width:40.80px;height:41.40px;background:#fff;border-radius:20px 20px 9px 9px;"></div>
<div class="b" style="left:2766.00px;top:1306.60px;width:40.80px;height:41.40px;background:#fff;border-radius:9px 9px 20px 20px;"></div>
<span class="t" style="left:2780.84px;top:1274px;font-size:19.0px;color:#555;font-weight:700;">+</span>
<span class="t" style="left:2783.22px;top:1317px;font-size:19.0px;color:#555;font-weight:700;">-</span>
</div></body></html>
